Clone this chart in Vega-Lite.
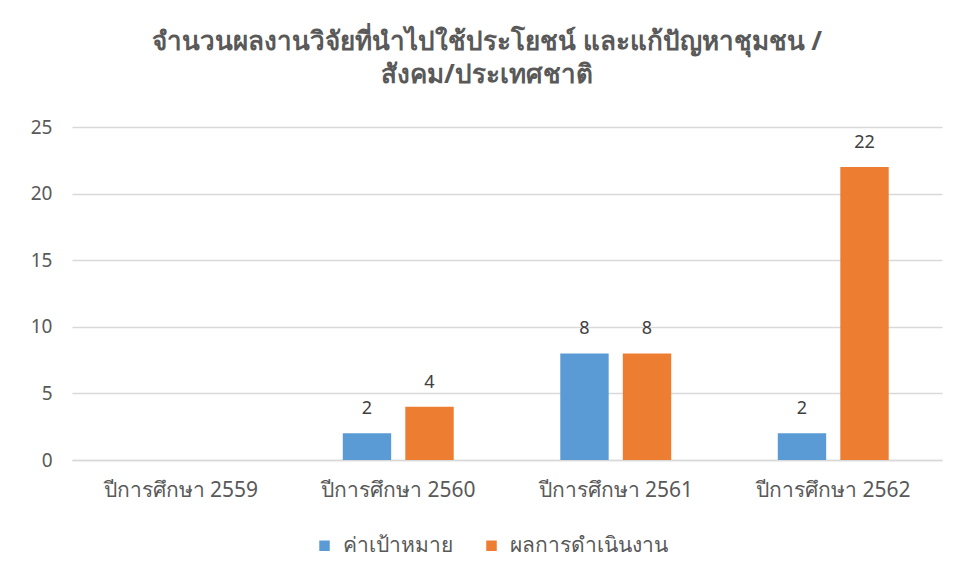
{
  "$schema": "https://vega.github.io/schema/vega-lite/v6.json",
  "autosize": {"type": "none"},
  "padding": {"left": 72, "top": 127, "right": 17, "bottom": 118},
  "width": 870,
  "height": 333,
  "background": "white",
  "config": {"view": {"stroke": null}},
  "title": {
    "text": ["จำนวนผลงานวิจัยที่นำไปใช้ประโยชน์ และแก้ปัญหาชุมชน /", "สังคม/ประเทศชาติ"],
    "anchor": "middle",
    "dx": -20,
    "offset": 30,
    "fontSize": 26,
    "font": "Noto Sans",
    "fontWeight": "bold",
    "color": "#595959",
    "lineHeight": 33
  },
  "data": {
    "values": [
      {"year": "ปีการศึกษา 2559", "series": "ค่าเป้าหมาย", "value": null},
      {"year": "ปีการศึกษา 2559", "series": "ผลการดำเนินงาน", "value": null},
      {"year": "ปีการศึกษา 2560", "series": "ค่าเป้าหมาย", "value": 2},
      {"year": "ปีการศึกษา 2560", "series": "ผลการดำเนินงาน", "value": 4},
      {"year": "ปีการศึกษา 2561", "series": "ค่าเป้าหมาย", "value": 8},
      {"year": "ปีการศึกษา 2561", "series": "ผลการดำเนินงาน", "value": 8},
      {"year": "ปีการศึกษา 2562", "series": "ค่าเป้าหมาย", "value": 2},
      {"year": "ปีการศึกษา 2562", "series": "ผลการดำเนินงาน", "value": 22}
    ]
  },
  "encoding": {
    "x": {
      "field": "year",
      "type": "nominal",
      "title": null,
      "sort": null,
      "scale": {
        "domain": ["ปีการศึกษา 2559", "ปีการศึกษา 2560", "ปีการศึกษา 2561", "ปีการศึกษา 2562"],
        "paddingInner": 0.49,
        "paddingOuter": 0.245
      },
      "axis": {
        "labelAngle": 0,
        "labelFontSize": 21,
        "labelFont": "Noto Sans",
        "labelColor": "#595959",
        "labelPadding": 19,
        "ticks": false,
        "domainColor": "#d9d9d9",
        "domainWidth": 1.5
      }
    },
    "xOffset": {
      "field": "series",
      "type": "nominal",
      "sort": ["ค่าเป้าหมาย", "ผลการดำเนินงาน"],
      "scale": {"paddingInner": 0.226, "paddingOuter": 0}
    },
    "y": {
      "field": "value",
      "type": "quantitative",
      "title": null,
      "scale": {"domain": [0, 25]},
      "axis": {
        "values": [0, 5, 10, 15, 20, 25],
        "labelFontSize": 19,
        "labelFont": "Noto Sans",
        "labelColor": "#595959",
        "labelPadding": 20,
        "ticks": false,
        "domain": false,
        "gridColor": "#d9d9d9",
        "gridWidth": 1.5
      }
    }
  },
  "layer": [
    {
      "mark": {"type": "bar"},
      "encoding": {
        "color": {
          "field": "series",
          "type": "nominal",
          "sort": ["ค่าเป้าหมาย", "ผลการดำเนินงาน"],
          "scale": {"domain": ["ค่าเป้าหมาย", "ผลการดำเนินงาน"], "range": ["#5B9BD5", "#ED7D31"]},
          "legend": {
            "title": null,
            "orient": "none",
            "legendX": 242,
            "legendY": 408,
            "direction": "horizontal",
            "symbolType": "square",
            "symbolSize": 110,
            "symbolStrokeWidth": 0,
            "symbolOffset": 0,
            "labelOffset": 8,
            "labelFontSize": 21,
            "labelFont": "Noto Sans",
            "labelColor": "#595959",
            "columnPadding": 28
          }
        }
      }
    },
    {
      "mark": {"type": "text", "fontSize": 18, "font": "Noto Sans", "color": "#404040", "baseline": "middle", "dy": -24},
      "encoding": {
        "text": {"field": "value", "type": "quantitative"}
      }
    }
  ]
}
